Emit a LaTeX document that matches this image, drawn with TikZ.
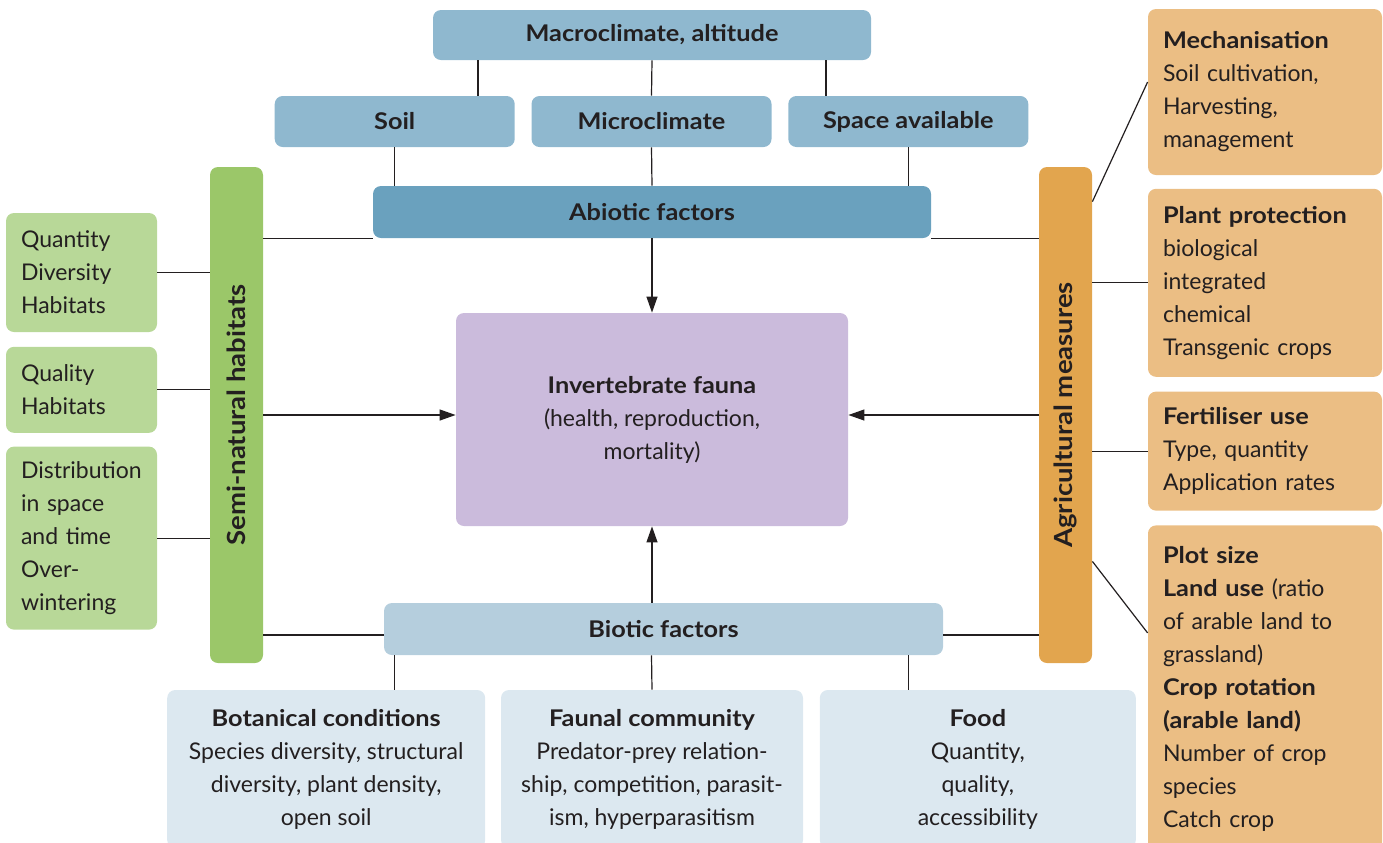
\documentclass[tikz,border=0pt]{standalone}
\usepackage{fontspec}
\setmainfont{Lato}[BoldFeatures={FakeStretch=1.1}]
\usetikzlibrary{arrows.meta, positioning}

\definecolor{macroblue}{HTML}{8FB8CF}
\definecolor{abioblue}{HTML}{6AA1BE}
\definecolor{bioblue}{HTML}{B5CEDD}
\definecolor{paleblue}{HTML}{DCE8F0}
\definecolor{faunalilac}{HTML}{CBBBDC}
\definecolor{habgreen}{HTML}{9BC769}
\definecolor{palegreen}{HTML}{B8D898}
\definecolor{agrorange}{HTML}{E2A54E}
\definecolor{paleorange}{HTML}{EBBE84}
\definecolor{ink}{HTML}{231F20}

\begin{document}
\begin{tikzpicture}[x=0.5pt, y=-0.5pt, node distance=7pt, text=ink,
    font=\fontsize{11.5}{16.5}\selectfont,
    box/.style={rectangle, rounded corners=4pt, inner sep=0pt, align=center},
    headbox/.style={box, font=\fontsize{11.5}{16.5}\selectfont\bfseries},
    topbox/.style={headbox, fill=macroblue, minimum width=120pt, minimum height=25.5pt},
    bar/.style={box, minimum width=26.5pt, minimum height=248pt},
    bartext/.style={rotate=90, font=\fontsize{12.5}{16.5}\selectfont\bfseries},
    sidebox/.style={box, fill=palegreen, text width=60.5pt, align=left, inner xsep=7.5pt},
    orbox/.style={box, fill=paleorange, text width=102pt, align=left, inner xsep=7.5pt},
    botbox/.style={box, fill=paleblue, minimum height=79pt},
    link/.style={color=ink, line width=0.6pt},
    arrow/.style={link, -{Triangle[length=8pt, width=5.5pt]}}]
    \useasboundingbox (0,0) rectangle (1383,842);

    % abiotic side
    \node (macro) [topbox, minimum width=219pt, minimum height=25pt] at (652,35) {Macroclimate, altitude};
    \node (micro) [topbox] at (651.5,121.5) {Microclimate};
    \node (soil) [topbox, left=8pt of micro] {Soil};
    \node (space) [topbox, right=8pt of micro] {Space available};
    \node (abio) [headbox, fill=abioblue, minimum width=279pt, minimum height=26pt] at (652,212) {Abiotic factors};

    \node (fauna) [box, fill=faunalilac, minimum width=196pt, minimum height=106.5pt] at (652,419.5)
        {\textbf{Invertebrate fauna}\\(health, reproduction,\\mortality)};

    % semi-natural habitats
    \node (hab) [bar, fill=habgreen] at (236.5,415) {};
    \node [bartext] at (hab) {Semi-natural habitats};
    \node (qty) [sidebox, minimum height=59.5pt] at (81.5,272.5) {Quantity\\Diversity\\Habitats};
    \node (qual) [sidebox, minimum height=43pt, below=7pt of qty] {Quality\\Habitats};
    \node (distr) [sidebox, minimum height=91.5pt, below=6.5pt of qual] {Distribution\\in space\\and time\\Over-\\wintering};

    % agricultural measures
    \node (agr) [bar, fill=agrorange] at (1065.5,415) {};
    \node [bartext] at (agr) {Agricultural measures};
    \node (mech) [orbox, minimum height=83pt] at (1265,92) {\textbf{Mechanisation}\\Soil cultivation,\\Harvesting,\\management};
    \node (prot) [orbox, minimum height=94pt, below=6.5pt of mech] {\textbf{Plant protection}\\biological\\integrated\\chemical\\Transgenic crops};
    \node (fert) [orbox, minimum height=59.5pt, below=7pt of prot] {\textbf{Fertiliser use}\\Type, quantity\\Application rates};
    \node (plot) [orbox, minimum height=163.5pt, below=7pt of fert] {\textbf{Plot size}\\\textbf{Land use} (ratio\\of arable land to\\grassland)\\\textbf{Crop rotation}\\\textbf{(arable land)}\\Number of crop\\species\\Catch crop};

    % biotic side
    \node (bio) [headbox, fill=bioblue, minimum width=279.5pt, minimum height=26pt] at (663.5,629) {Biotic factors};
    \node (faunal) [botbox, minimum width=151pt] at (652,769)
        {\textbf{Faunal community}\\Predator-prey relation-\\ship, competition, parasit-\\ism, hyperparasitism};
    \node (bot) [botbox, minimum width=159pt, left=7.5pt of faunal]
        {\textbf{Botanical conditions}\\Species diversity, structural\\diversity, plant density,\\open soil};
    \node (food) [botbox, minimum width=158pt, right=8pt of faunal] {\textbf{Food}\\Quantity,\\quality,\\accessibility};

    \coordinate (k1) at (478,0);
    \coordinate (k3) at (826,0);
    \coordinate (bioL) at ([yshift=-3pt]bio.west);
    \coordinate (bioR) at ([yshift=-3pt]bio.east);

    \path[link]
        (macro.south -| k1) edge (soil.north -| k1)
        (macro.south) edge (micro.north)
        (macro.south -| k3) edge (space.north -| k3)
        (soil.south) edge (soil.south |- abio.north)
        (micro.south) edge (abio.north)
        (space.south) edge (space.south |- abio.north)
        (abio.south west -| hab.east) edge (abio.south west)
        (abio.south east) edge (abio.south east -| agr.west)
        (bioL -| hab.east) edge (bioL)
        (bioR) edge (bioR -| agr.west)
        (bio.south -| soil) edge (bot.north -| soil)
        (bio.south -| micro) edge (faunal.north)
        (bio.south -| space) edge (food.north -| space)
        (qty.east) edge (qty.east -| hab.west)
        (qual.east) edge (qual.east -| hab.west)
        (distr.east) edge (distr.east -| hab.west)
        ([yshift=-17.5pt]agr.north east) edge ([yshift=5pt]mech.west)
        (prot.west) edge (prot.west -| agr.east)
        (fert.west) edge (fert.west -| agr.east)
        ([yshift=51pt]agr.south east) edge ([yshift=28pt]plot.west);

    \path[arrow]
        (abio.south) edge (fauna.north)
        (fauna.south |- bio.north) edge (fauna.south)
        (hab.east) edge (hab.east -| fauna.west)
        (agr.west) edge (agr.west -| fauna.east);
\end{tikzpicture}
\end{document}
